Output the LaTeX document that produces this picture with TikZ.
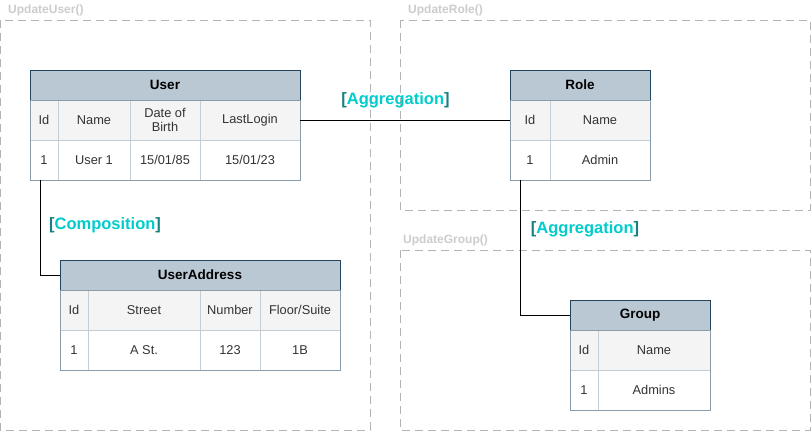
\documentclass[tikz,border=0pt]{standalone}
\usepackage{fontspec}
\setmainfont{Liberation Sans}
\definecolor{hdrfill}{HTML}{BAC8D3}
\definecolor{hdrline}{HTML}{23445D}
\definecolor{outerc}{HTML}{8A9BAA}
\definecolor{gridc}{HTML}{C3CDD6}
\definecolor{rowfill}{HTML}{F4F4F4}
\definecolor{txtc}{HTML}{333333}
\definecolor{contc}{HTML}{B3B3B3}
\definecolor{contt}{HTML}{CCCCCC}
\definecolor{brk}{HTML}{1A7F7F}
\definecolor{lblc}{HTML}{00CCCC}
\begin{document}
\begin{tikzpicture}[x=1pt,y=-1pt,
  container/.style={draw=contc, line width=1pt, dash pattern=on 8pt off 5pt},
  contlabel/.style={text=contt, font=\fontsize{12}{14}\selectfont\bfseries, anchor=west, inner sep=0pt},
  title/.style={draw=hdrline, fill=hdrfill, line width=1pt, inner sep=0pt, outer sep=0pt, minimum height=30pt, font=\fontsize{13.5}{15}\selectfont\bfseries},
  hcell/.style={draw=gridc, fill=rowfill, line width=1pt, inner sep=0pt, outer sep=0pt, minimum height=40pt, text=txtc, font=\fontsize{12.8}{14.5}\selectfont, align=center},
  dcell/.style={draw=gridc, fill=white, line width=1pt, inner sep=0pt, outer sep=0pt, minimum height=40pt, text=txtc, font=\fontsize{12.8}{14.5}\selectfont, align=center},
  body/.style={draw=outerc, line width=1pt},
  conn/.style={draw=black, line width=1pt},
  rel/.style={font=\fontsize{16.5}{18}\selectfont\bfseries, inner sep=0pt}
]
\useasboundingbox (0,0) rectangle (811,431);

% containers
\draw[container] (0,20) rectangle (370,430);
\draw[container] (400,20) rectangle (810,210);
\draw[container] (400,250) rectangle (810,430);
\node[contlabel] (lu) at (8,10) {UpdateUser()};
\node[contlabel] (lr) at (408,10) {UpdateRole()};
\node[contlabel] (lg) at (403,240) {UpdateGroup()};

% User table
\node[title, minimum width=270pt] (user) at (165,85) {User};
\node[hcell, minimum width=28pt] (u-h1) at (44,120) {Id};
\node[hcell, minimum width=72pt] (u-h2) at (94,120) {Name};
\node[hcell, minimum width=70pt] (u-h3) at (165,120) {Date of\\Birth};
\node[hcell, minimum width=100pt] (u-h4) at (250,120) {LastLogin};
\node[dcell, minimum width=28pt] (u-d1) at (44,160) {1};
\node[dcell, minimum width=72pt] (u-d2) at (94,160) {User 1};
\node[dcell, minimum width=70pt] (u-d3) at (165,160) {15/01/85};
\node[dcell, minimum width=100pt] (u-d4) at (250,160) {15/01/23};
\draw[body] (u-h1.north west) rectangle (u-d4.south east);

% Role table
\node[title, minimum width=140pt] (role) at (580,85) {Role};
\node[hcell, minimum width=40pt] (r-h1) at (530,120) {Id};
\node[hcell, minimum width=100pt] (r-h2) at (600,120) {Name};
\node[dcell, minimum width=40pt] (r-d1) at (530,160) {1};
\node[dcell, minimum width=100pt] (r-d2) at (600,160) {Admin};
\draw[body] (r-h1.north west) rectangle (r-d2.south east);

% UserAddress table
\node[title, minimum width=280pt] (addr) at (200,275) {UserAddress};
\node[hcell, minimum width=28pt] (a-h1) at (74,310) {Id};
\node[hcell, minimum width=112pt] (a-h2) at (144,310) {Street};
\node[hcell, minimum width=60pt] (a-h3) at (230,310) {Number};
\node[hcell, minimum width=80pt] (a-h4) at (300,310) {Floor/Suite};
\node[dcell, minimum width=28pt] (a-d1) at (74,350) {1};
\node[dcell, minimum width=112pt] (a-d2) at (144,350) {A St.};
\node[dcell, minimum width=60pt] (a-d3) at (230,350) {123};
\node[dcell, minimum width=80pt] (a-d4) at (300,350) {1B};
\draw[body] (a-h1.north west) rectangle (a-d4.south east);

% Group table
\node[title, minimum width=140pt] (group) at (640,315) {Group};
\node[hcell, minimum width=28pt] (g-h1) at (584,350) {Id};
\node[hcell, minimum width=112pt] (g-h2) at (654,350) {Name};
\node[dcell, minimum width=28pt] (g-d1) at (584,390) {1};
\node[dcell, minimum width=112pt] (g-d2) at (654,390) {Admins};
\draw[body] (g-h1.north west) rectangle (g-d2.south east);

% connectors
\draw[conn] (u-h4.east) -- (r-h1.west);
\draw[conn] ([xshift=10pt]u-d1.south west) |- (addr.west);
\draw[conn] ([xshift=10pt]r-d1.south west) |- (group.west);

% relation labels
\node[rel] (agg1) at (395.5,100) {\textcolor{brk}{[}\textcolor{lblc}{Aggregation}\textcolor{brk}{]}};
\node[rel] (comp) at (105,225) {\textcolor{brk}{[}\textcolor{lblc}{Composition}\textcolor{brk}{]}};
\node[rel] (agg2) at (585,229) {\textcolor{brk}{[}\textcolor{lblc}{Aggregation}\textcolor{brk}{]}};
\end{tikzpicture}
\end{document}
